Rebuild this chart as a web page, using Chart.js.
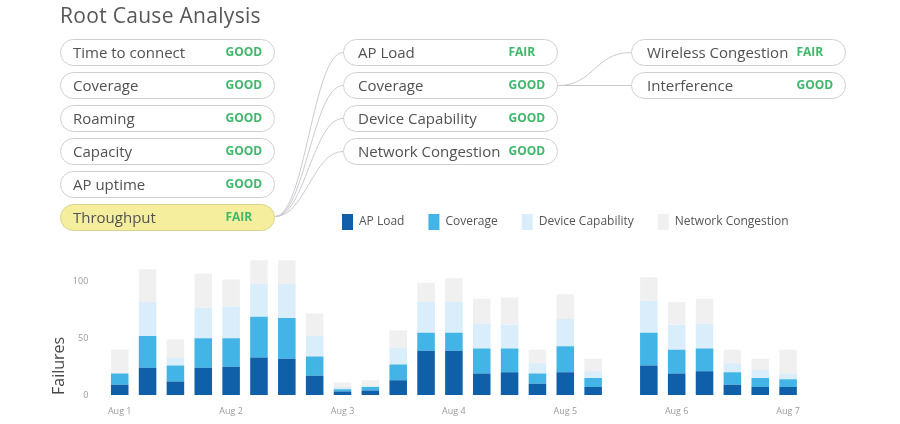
<!DOCTYPE html>
<html>
<head>
<meta charset="utf-8">
<script src="https://cdn.jsdelivr.net/npm/chart.js@4"></script>
<style>
  body { margin: 0; background: #fff; font-family: "Open Sans", sans-serif; }
  #page { position: relative; width: 900px; height: 424px; overflow: hidden; }
  #failChart { position: absolute; left: 0; top: 0; }
  .title { position: absolute; left: 60px; top: 5.4px; margin: 0; font-size: 21px; line-height: 21px; letter-spacing: 0.3px; font-weight: 400; color: #575757; }
  #links { position: absolute; left: 0; top: 0; }
  .pill { position: absolute; width: 215px; height: 27px; box-sizing: border-box; border: 1.5px solid #cfcfcf; border-radius: 14px; background: #fff; line-height: 24px; }
  .pill .name { position: absolute; left: 12px; font-size: 15px; color: #525252; white-space: nowrap; }
  .pill .state { position: absolute; left: 164.5px; font-size: 12px; font-weight: 700; color: #3fb86b; }
  .mid .name { left: 14px; }
  .far .name { left: 15px; }
  .pill.hot { background: #f5ef9d; border-color: #d9d390; }
</style>
</head>
<body>
<div id="page">
  <canvas id="failChart" width="900" height="424"></canvas>
  <h1 class="title">Root Cause Analysis</h1>

  <svg id="links" width="900" height="240">
    <g fill="none" stroke="#c9c9d2" stroke-width="1">
      <path d="M275 216.5 C305 216.5 313 52.5 343 52.5"/>
      <path d="M275 216.5 C305 216.5 313 85.5 343 85.5"/>
      <path d="M275 216.5 C305 216.5 313 118.5 343 118.5"/>
      <path d="M275 216.5 C305 216.5 313 151.5 343 151.5"/>
      <path d="M558 85.5 C594 85.5 595 52.5 631 52.5"/>
      <path d="M558 85.5 L631 85.5"/>
    </g>
  </svg>

  <!-- left column -->
  <div class="pill" style="left:60px;top:39px"><span class="name">Time to connect</span><span class="state">GOOD</span></div>
  <div class="pill" style="left:60px;top:72px"><span class="name">Coverage</span><span class="state">GOOD</span></div>
  <div class="pill" style="left:60px;top:105px"><span class="name">Roaming</span><span class="state">GOOD</span></div>
  <div class="pill" style="left:60px;top:138px"><span class="name">Capacity</span><span class="state">GOOD</span></div>
  <div class="pill" style="left:60px;top:171px"><span class="name">AP uptime</span><span class="state">GOOD</span></div>
  <div class="pill hot" style="left:60px;top:204px"><span class="name">Throughput</span><span class="state">FAIR</span></div>

  <!-- middle column -->
  <div class="pill mid" style="left:343px;top:39px"><span class="name">AP Load</span><span class="state">FAIR</span></div>
  <div class="pill mid" style="left:343px;top:72px"><span class="name">Coverage</span><span class="state">GOOD</span></div>
  <div class="pill mid" style="left:343px;top:105px"><span class="name">Device Capability</span><span class="state">GOOD</span></div>
  <div class="pill mid" style="left:343px;top:138px"><span class="name">Network Congestion</span><span class="state">GOOD</span></div>

  <!-- right column -->
  <div class="pill far" style="left:631px;top:39px"><span class="name">Wireless Congestion</span><span class="state">FAIR</span></div>
  <div class="pill far" style="left:631px;top:72px"><span class="name">Interference</span><span class="state">GOOD</span></div>
</div>

<script>
// Six-hour slots, Aug 1 00:00 .. Aug 7 00:00
const slots = [
  "Aug 1 00:00", "Aug 1 06:00", "Aug 1 12:00", "Aug 1 18:00",
  "Aug 2 00:00", "Aug 2 06:00", "Aug 2 12:00", "Aug 2 18:00",
  "Aug 3 00:00", "Aug 3 06:00", "Aug 3 12:00", "Aug 3 18:00",
  "Aug 4 00:00", "Aug 4 06:00", "Aug 4 12:00", "Aug 4 18:00",
  "Aug 5 00:00", "Aug 5 06:00", "Aug 5 12:00", "Aug 5 18:00",
  "Aug 6 00:00", "Aug 6 06:00", "Aug 6 12:00", "Aug 6 18:00",
  "Aug 7 00:00",
];

// Failures per cause (Aug 5 12:00 has no data)
const apLoad = [9, 24, 12, 24, 25, 33, 32, 17, 3, 4, 13, 39, 39, 19, 20, 10, 20, 7, null, 26, 19, 21, 9, 7, 7];
const coverage = [10, 28, 14, 26, 25, 36, 36, 17, 2, 3, 14, 16, 16, 22, 21, 9, 23, 8, null, 29, 21, 20, 11, 8, 7];
const deviceCapability = [0, 30, 7, 27, 28, 29, 30, 18, 2, 1, 15, 27, 27, 22, 21, 9, 24, 6, null, 28, 22, 22, 8, 7, 5];
const networkCongestion = [21, 29, 16, 30, 24, 21, 21, 20, 4, 5, 15, 17, 21, 22, 24, 12, 22, 11, null, 21, 20, 22, 12, 10, 21];

const yTicks = [0, 50, 100];

Chart.defaults.font.family = "'Open Sans', sans-serif";

// Push the legend over to the right and leave room under it
const legendPlace = {
  id: "legendPlace",
  beforeInit(chart) {
    const fitLegend = chart.legend.fit;
    chart.legend.fit = function fit() {
      fitLegend.bind(chart.legend)();
      this.height += 19;
    };
  },
  afterLayout(chart) {
    chart.legend.left = 318;
    chart.legend.right = 900;
  },
};

function makeSet(label, data, color) {
  return {
    label: label,
    data: data,
    backgroundColor: color,
    borderWidth: 0,
    categoryPercentage: 1,
    barPercentage: 0.63,
  };
}

const failCtx = document.getElementById("failChart");

let failChart = new Chart(failCtx, {
  type: "bar",
  data: {
    labels: slots,
    datasets: [
      makeSet("AP Load", apLoad, "#0f5fa9"),
      makeSet("Coverage", coverage, "#42b4e6"),
      makeSet("Device Capability", deviceCapability, "#d9edfa"),
      makeSet("Network Congestion", networkCongestion, "#f0f0f0"),
    ],
  },
  plugins: [legendPlace],
  options: {
    responsive: false,
    animation: false,
    layout: {
      padding: { left: 45.5, right: 98, top: 190, bottom: 7 },
    },
    plugins: {
      legend: {
        align: "start",
        labels: {
          boxWidth: 11,
          boxHeight: 16,
          padding: 24,
          color: "#555",
          font: { size: 12 },
        },
      },
      tooltip: { enabled: false },
    },
    scales: {
      x: {
        stacked: true,
        grid: { display: false, drawTicks: false },
        border: { display: false },
        afterFit: (scale) => {
          scale.height = 22;
        },
        ticks: {
          autoSkip: false,
          maxRotation: 0,
          padding: 11,
          color: "#9a9a9a",
          font: { size: 9 },
          callback: function (value) {
            const lab = this.getLabelForValue(value);
            return lab.endsWith("00:00") ? lab.slice(0, -6) : "";
          },
        },
      },
      y: {
        stacked: true,
        min: 0,
        max: 120,
        grid: { display: false, drawTicks: false },
        border: { display: false },
        afterBuildTicks: (scale) => {
          scale.ticks = yTicks.map((v) => ({ value: v }));
        },
        afterFit: (scale) => {
          scale.width = 60.3;
        },
        ticks: {
          padding: 17.5,
          color: "#9a9a9a",
          font: { size: 9 },
        },
        title: {
          display: true,
          text: "Failures",
          align: "start",
          color: "#474747",
          font: { size: 16 },
          padding: { top: 4, bottom: 4 },
        },
      },
    },
  },
});
</script>
</body>
</html>
